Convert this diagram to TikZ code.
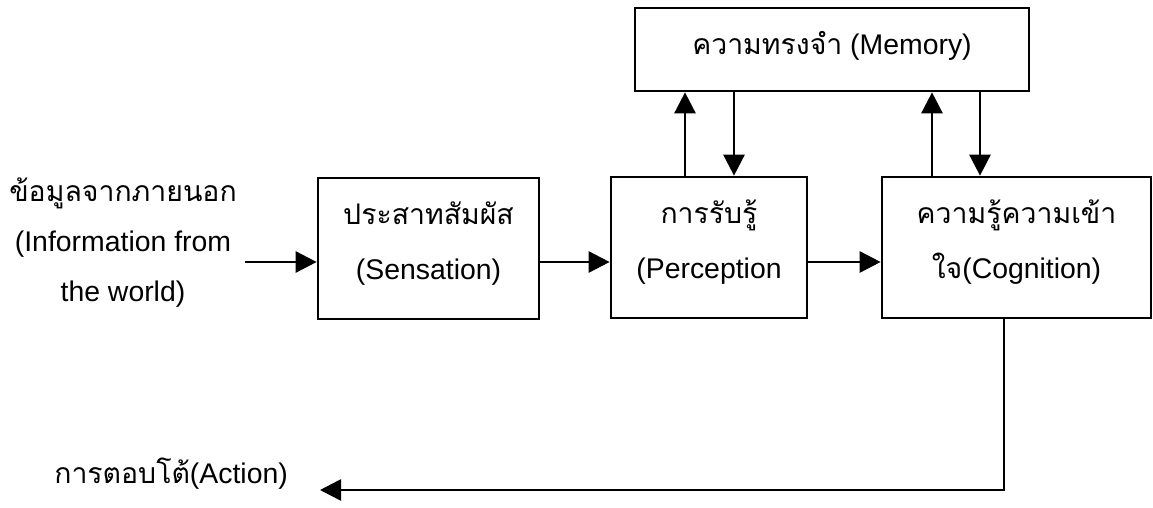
\documentclass[tikz,border=0pt]{standalone}
\usepackage{fontspec}
\setmainfont{Liberation Sans}
\newfontfamily\thai[Script=Thai]{Loma}
\usetikzlibrary{arrows.meta}
\begin{document}
\begin{tikzpicture}[x=1pt,y=-1pt,
  box/.style={draw=black, line width=2.7pt, align=center, inner sep=0pt,
    text depth=16pt, font=\fontsize{28.4}{55}\selectfont},
  lbl/.style={align=center, inner sep=0pt, font=\fontsize{28.4}{50}\selectfont},
  conn/.style={draw=black, line width=2.7pt, -{Triangle[length=21pt,width=21pt]}}
]
\useasboundingbox (0,0) rectangle (1153,508);

\node[box, minimum width=221pt, minimum height=141pt] (sens) at (428.5,248.5)
  {{\thai ประสาทสัมผัส}\\(Sensation)};
\node[box, minimum width=196pt, minimum height=141pt] (perc) at (709,247.5)
  {{\thai การรับรู้}\\(Perception};
\node[box, minimum width=269pt, minimum height=141pt] (cogn) at (1016.5,247.5)
  {{\thai ความรู้ความเข้า}\\{\thai ใจ}(Cognition)};
\node[box, minimum width=394pt, minimum height=83pt, text depth=14pt] (mem) at (832,49.5)
  {{\thai ความทรงจำ} (Memory)};

\node[lbl] (info) at (123,243)
  {{\thai ข้อมูลจากภายนอก}\\(Information from\\the world)};
\node[lbl, anchor=east] (act) at (288,474) {{\thai การตอบโต้}(Action)};

% input arrow
\coordinate (inS) at (245,262);
\draw[conn] (inS) -- (inS -| sens.west);
% horizontal chain
\coordinate (h1) at (539,262);
\draw[conn] (h1 -| sens.east) -- (h1 -| perc.west);
\draw[conn] (h1 -| perc.east) -- (h1 -| cogn.west);
% memory links
\coordinate (u1) at (685,0);
\coordinate (d1) at (734,0);
\coordinate (u2) at (932,0);
\coordinate (d2) at (980,0);
\draw[conn] (u1 |- perc.north) -- (u1 |- mem.south);
\draw[conn] (d1 |- mem.south) -- (d1 |- perc.north);
\draw[conn] (u2 |- cogn.north) -- (u2 |- mem.south);
\draw[conn] (d2 |- mem.south) -- (d2 |- cogn.north);
% output
\coordinate (o1) at (1004,490);
\coordinate (oEnd) at (320,490);
\draw[conn] (o1 |- cogn.south) -- (o1) -- (oEnd);
\end{tikzpicture}
\end{document}
